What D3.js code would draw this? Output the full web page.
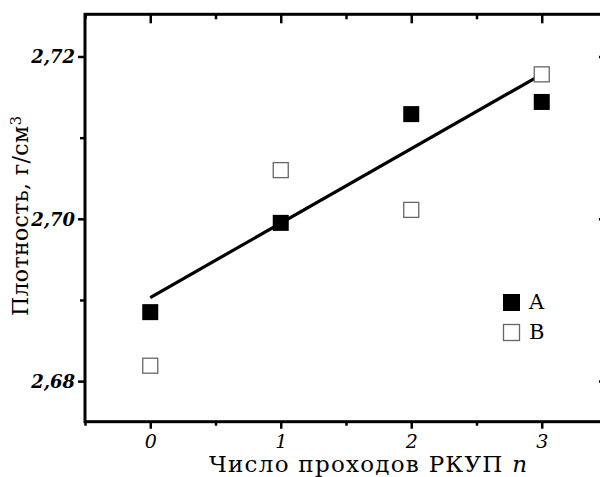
<!DOCTYPE html>
<html>
<head>
<meta charset="utf-8">
<script src="https://cdn.jsdelivr.net/npm/d3@7"></script>
<style>
  html, body { margin: 0; padding: 0; background: #fff; }
  svg { display: block; }
  text { font-family: "DejaVu Serif", "Liberation Serif", serif; fill: #000; }
</style>
</head>
<body>
<div id="chart"></div>
<script>
// passes of ECAP (РКУП)
var passes = [0, 1, 2, 3];
// density, g/cm3
var seriesA = [2.6885, 2.6995, 2.7129, 2.7144];
var seriesB = [2.6819, 2.7060, 2.7011, 2.7178];
// linear fit drawn through the points
var fitX = [0, 3];
var fitY = [2.6903, 2.7178];

var xTicks = [0, 1, 2, 3];
var xTickLabels = ["0", "1", "2", "3"];
var xMinorTicks = [-0.5, 0.5, 1.5, 2.5, 3.5];
var yTicks = [2.68, 2.70, 2.72];
var yTickLabels = ["2,68", "2,70", "2,72"];
var yMinorTicks = [2.69, 2.71];
var legendNames = ["A", "B"];

var width = 600, height = 477;
var svg = d3.select("#chart").append("svg")
    .attr("width", width)
    .attr("height", height);

var x = d3.scaleLinear().domain([-0.5, 3.5]).range([85, 607]);
var y = d3.scaleLinear().domain([2.675, 2.7252]).range([421.7, 14.3]);

var left = x.range()[0], right = x.range()[1];
var top_ = y.range()[1], bottom = y.range()[0];

// bottom axis, outward ticks
var bottomAxis = svg.append("g")
    .attr("transform", "translate(0," + bottom + ")")
    .call(d3.axisBottom(x).tickValues(xTicks).tickSize(7).tickPadding(6)
        .tickFormat(function (d, i) { return xTickLabels[i]; }));
svg.append("g")
    .attr("transform", "translate(0," + bottom + ")")
    .call(d3.axisBottom(x).tickValues(xMinorTicks).tickSize(4).tickFormat(""));

// top axis, inward ticks
svg.append("g")
    .attr("transform", "translate(0," + top_ + ")")
    .call(d3.axisBottom(x).tickValues(xTicks).tickSize(9).tickFormat(""));
svg.append("g")
    .attr("transform", "translate(0," + top_ + ")")
    .call(d3.axisBottom(x).tickValues(xMinorTicks).tickSize(5).tickFormat(""));

// left axis, outward ticks
var leftAxis = svg.append("g")
    .attr("transform", "translate(" + left + ",0)")
    .call(d3.axisLeft(y).tickValues(yTicks).tickSize(7).tickPadding(3)
        .tickFormat(function (d, i) { return yTickLabels[i]; }));
svg.append("g")
    .attr("transform", "translate(" + left + ",0)")
    .call(d3.axisLeft(y).tickValues(yMinorTicks).tickSize(5).tickFormat(""));

// right axis, inward ticks
svg.append("g")
    .attr("transform", "translate(" + right + ",0)")
    .call(d3.axisLeft(y).tickValues(yTicks).tickSize(8).tickFormat(""));
svg.append("g")
    .attr("transform", "translate(" + right + ",0)")
    .call(d3.axisLeft(y).tickValues(yMinorTicks).tickSize(5).tickFormat(""));

svg.selectAll(".domain").remove();
svg.selectAll(".tick line").attr("stroke", "#000").attr("stroke-width", 2.5);

bottomAxis.selectAll("text")
    .style("font-size", "19px")
    .style("font-style", "italic");
leftAxis.selectAll("text")
    .style("font-size", "18px")
    .style("font-style", "italic")
    .style("font-weight", "bold")
    .attr("dy", "0.36em");

// frame
svg.append("rect")
    .attr("x", left).attr("y", top_)
    .attr("width", right - left).attr("height", bottom - top_)
    .attr("fill", "none").attr("stroke", "#000").attr("stroke-width", 3);

// fit line
var line = d3.line()
    .x(function (d) { return x(d[0]); })
    .y(function (d) { return y(d[1]); });
svg.append("path")
    .datum(d3.zip(fitX, fitY))
    .attr("d", line)
    .attr("fill", "none")
    .attr("stroke", "#000")
    .attr("stroke-width", 3.2);

var sq = 16;
svg.append("g").selectAll("rect")
    .data(d3.zip(passes, seriesB))
    .enter().append("rect")
    .attr("x", function (d) { return x(d[0]) - sq / 2 + 0.5; })
    .attr("y", function (d) { return y(d[1]) - sq / 2 + 0.5; })
    .attr("width", sq - 1).attr("height", sq - 1)
    .attr("fill", "#fff").attr("stroke", "#666").attr("stroke-width", 1.3);

svg.append("g").selectAll("rect")
    .data(d3.zip(passes, seriesA))
    .enter().append("rect")
    .attr("x", function (d) { return x(d[0]) - sq / 2; })
    .attr("y", function (d) { return y(d[1]) - sq / 2; })
    .attr("width", sq).attr("height", sq)
    .attr("fill", "#000");

// legend
var legend = svg.append("g").attr("transform", "translate(503,294)");
legendNames.forEach(function (name, i) {
    var g = legend.append("g").attr("transform", "translate(0," + (i * 30) + ")");
    if (i === 0) {
        g.append("rect").attr("width", 17).attr("height", 17).attr("fill", "#000");
    } else {
        g.append("rect").attr("x", 0.5).attr("y", 0.5).attr("width", 16).attr("height", 16)
            .attr("fill", "#fff").attr("stroke", "#666").attr("stroke-width", 1.3);
    }
    g.append("text").attr("x", 26).attr("y", 15)
        .style("font-size", "21px").text(name);
});

// axis titles
var xTitle = svg.append("text")
    .attr("x", 368).attr("y", 472)
    .attr("text-anchor", "middle")
    .attr("textLength", 318).attr("lengthAdjust", "spacing")
    .style("font-size", "23px");
xTitle.append("tspan").text("Число проходов РКУП ");
xTitle.append("tspan").style("font-style", "italic").text("n");

var yTitle = svg.append("text")
    .attr("transform", "translate(28,216) rotate(-90)")
    .attr("text-anchor", "middle")
    .attr("textLength", 200).attr("lengthAdjust", "spacing")
    .style("font-size", "22px");
yTitle.append("tspan").text("Плотность, г/см");
yTitle.append("tspan").attr("dy", "-0.5em").style("font-size", "15px").text("3");
</script>
</body>
</html>
